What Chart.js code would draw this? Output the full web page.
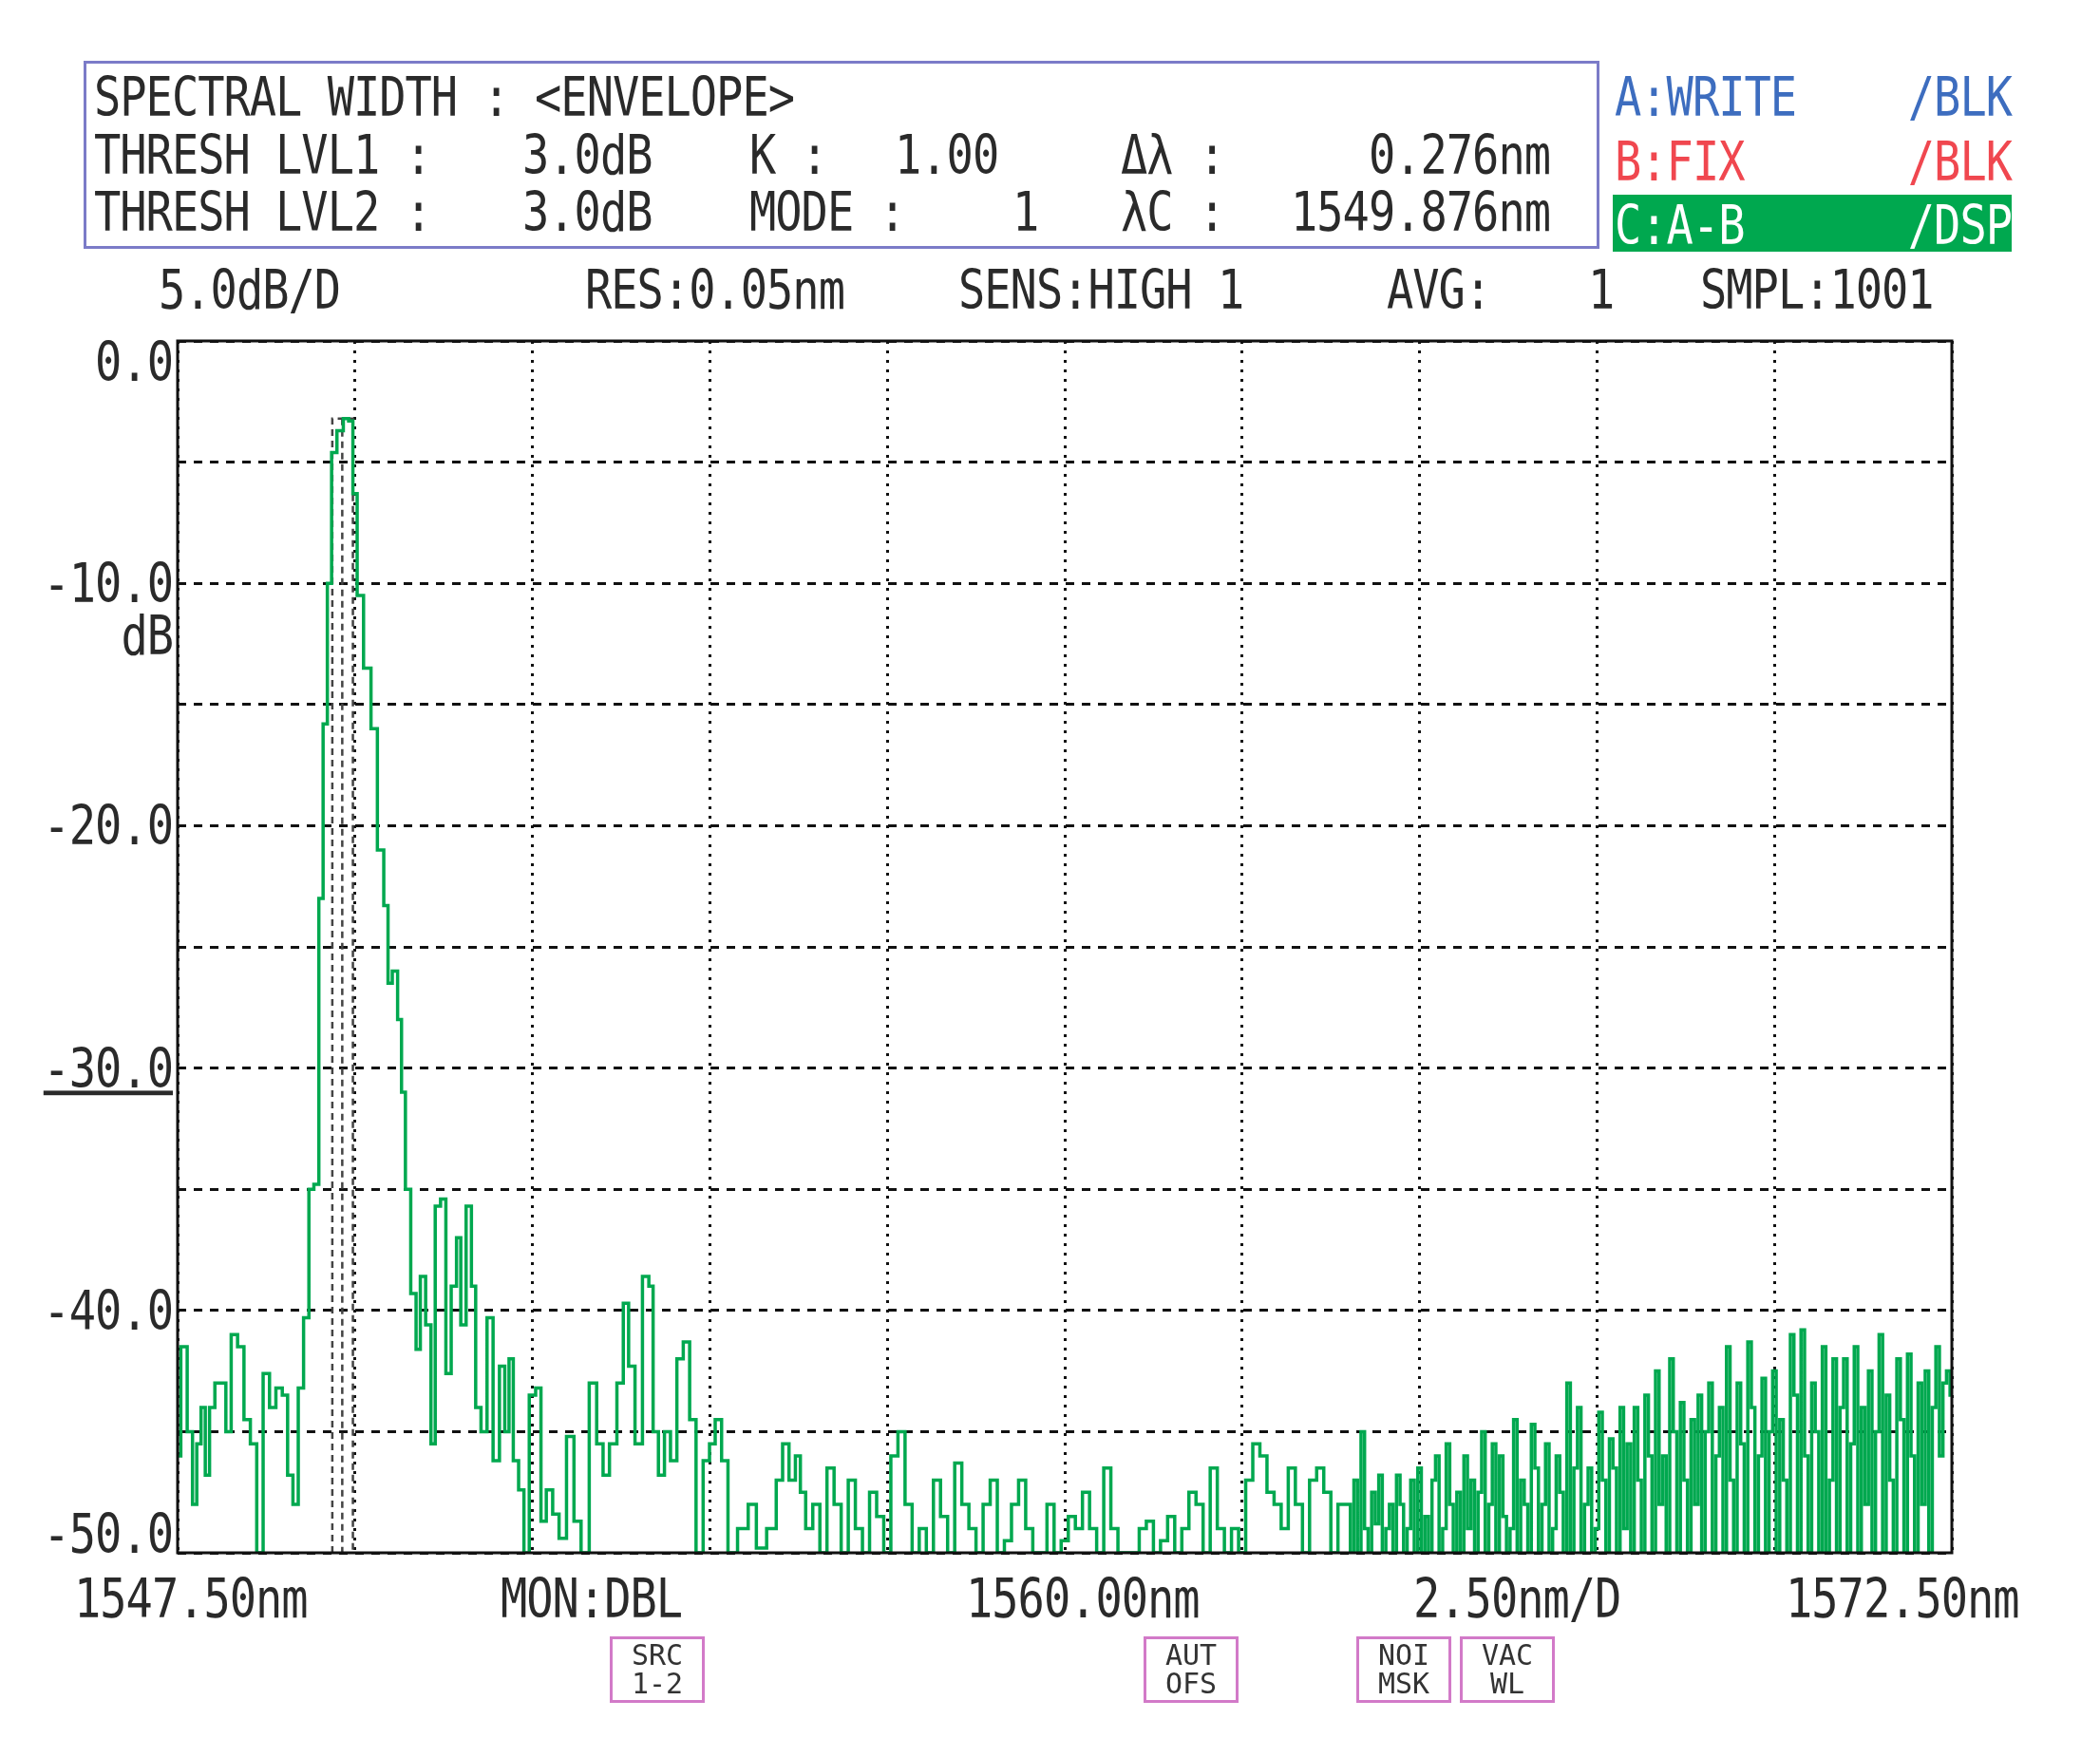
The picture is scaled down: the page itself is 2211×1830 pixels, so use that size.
<!DOCTYPE html>
<html>
<head>
<meta charset="utf-8">
<script src="https://cdn.jsdelivr.net/npm/chart.js@4/dist/chart.umd.min.js"></script>
<style>
  body { margin: 0; background: #fff; }
  #wrap { position: relative; width: 2211px; height: 1830px; overflow: hidden; }
  canvas { position: absolute; left: 0; top: 0; }
  .t { position: absolute; font-family: "DejaVu Sans Mono", monospace; font-size: 47px; color: #2a2a2a;
       line-height: 1; white-space: pre; transform: translateY(-50%) scaleY(1.2); letter-spacing: -1px; }
  .r { transform: translate(-100%, -50%) scaleY(1.2); }
  .box { position: absolute; border: 3px solid #7b7bc8; }
  .tag { position: absolute; border: 3px solid #d27ac8; font-family: "DejaVu Sans Mono", monospace;
         font-size: 30px; line-height: 30px; color: #333; text-align: center; box-sizing: border-box; padding-top: 2px; }
</style>
</head>
<body>
<div id="wrap">
  <canvas id="chart" width="2211" height="1830"></canvas>
</div>
<script>
// measured trace, main peak region (wavelength nm, level dB)
const peakNm = [1547.50,1547.59,1547.68,1547.74,1547.80,1547.86,1547.92,1547.98,1548.07,1548.15,1548.21,1548.30,1548.39,1548.48,1548.57,1548.66,1548.75,1548.84,1548.93,1549.02,1549.08,1549.17,1549.23,1549.32,1549.38,1549.46,1549.52,1549.58,1549.64,1549.70,1549.79,1549.88,1549.94,1550.00,1550.06,1550.18,1550.27,1550.36,1550.45,1550.48,1550.57,1550.63,1550.68,1550.74,1550.83,1550.89,1550.95,1551.04,1551.10,1551.16,1551.25,1551.31,1551.40,1551.46,1551.52,1551.61,1551.67,1551.73,1551.82,1551.90,1551.99,1552.08,1552.14,1552.20,1552.26,1552.35,1552.41,1552.50,1552.59,1552.65,1552.74,1552.83,1552.92,1553.04,1553.13,1553.24,1553.36,1553.45,1553.54,1553.63,1553.75,1553.81,1553.90,1553.99,1554.11,1554.17,1554.23,1554.32,1554.40,1554.49,1554.58,1554.67,1554.76,1554.85,1554.96,1555.03,1555.12,1555.21,1555.30,1555.48,1555.60,1555.71,1555.89,1555.98,1556.07,1556.16,1556.25];
const peakDb = [-46,-41.5,-45,-48,-45.5,-44,-46.8,-44,-43,-43,-45,-41,-41.5,-44.5,-45.5,-50,-42.6,-44,-43.2,-43.5,-46.8,-48,-43.2,-40.3,-35,-34.8,-23,-15.8,-10,-4.6,-3.7,-3.2,-3.3,-6.3,-10.5,-13.5,-16,-21,-23.3,-26.5,-26,-28,-31,-35,-39.3,-41.6,-38.6,-40.6,-45.5,-35.7,-35.4,-42.6,-39,-37,-40.6,-35.7,-39,-44,-45,-40.3,-46.2,-42.3,-45,-42,-46.2,-47.4,-50,-43.5,-43.2,-48.7,-47.4,-48.4,-49.4,-45.2,-48.7,-50,-43,-45.5,-46.8,-45.5,-43,-39.7,-42.3,-45.5,-38.6,-39,-45,-46.8,-45,-46.2,-42,-41.3,-44.5,-50,-46.2,-45.5,-44.5,-46.2,-50,-49,-48,-49.8,-49,-47,-45.5,-47,-46];
// noise floor A: every 0.1 nm from 1556.3 to 1563.9
const noiseAStart = 1556.3;
const noiseAStep = 0.1;
const noiseADb = [-47.5,-49,-48,-50,-46.5,-48,-50,-47,-49,-50,-47.5,-48.5,-50,-46,-45,-48,-50,-49,-50,-47,-48.5,-50,-46.3,-48,-49,-50,-48,-47,-50,-49.5,-48,-47,-49,-50,-50,-48,-50,-49.5,
  -48.5,-49,-47.5,-49,-50,-46.5,-49,-50,-50,-50,-49,-48.7,-50,-49.5,-48.5,-50,-49,-47.5,-48,-50,-46.5,-49,-50,-49,-50,-47,-45.5,-46,-47.5,-48,-49,-46.5,-48,-50,-47,-46.5,-47.5,-50,-48];
// noise floor B: every 0.05 nm from 1564.0 to 1572.5
const noiseBStart = 1564.0;
const noiseBStep = 0.05;
const noiseBDb = [-48,-50,-47,-50,-45,-49,-50,-47.5,-48.8,-46.8,-50,-49,-48,-50,-46.8,-48,-50,-49,-47,-50,
  -46.5,-50,-48.5,-50,-47,-46,-50,-49,-45.5,-48,-50,-47.5,-50,-46,-49,-47,-50,-47.5,-45,-50,
  -48,-45.5,-50,-46,-48.5,-50,-49,-44.5,-50,-47,-48,-50,-44.7,-46.5,-50,-48,-45.5,-50,-49,-46,
  -47.5,-50,-43,-50,-46.5,-44,-50,-48,-46.5,-50,-49,-44.2,-47,-50,-45.3,-46.5,-50,-44,-49,-45.5,
  -50,-44,-47,-50,-43.5,-46,-50,-42.5,-48,-46,-50,-42,-45,-50,-43.8,-47,-50,-44.5,-48,-43.5,
  -50,-45,-43,-50,-46,-44,-50,-41.5,-47,-50,-43,-45.5,-50,-41.3,-44,-50,-46,-42.8,-50,-45,
  -42.5,-50,-44.5,-47,-50,-41,-43.5,-50,-40.8,-46,-50,-43,-45,-50,-41.5,-50,-47,-42,-50,-44,
  -42,-50,-45.5,-41.5,-50,-44,-48,-42.5,-50,-45,-41,-50,-43.5,-47,-50,-42,-44.5,-50,-41.8,-46,
  -50,-43,-48,-42.5,-50,-44,-41.5,-46,-43,-42.5,-43.5];
// envelope markers
const envNm = [1549.68, 1549.82, 1549.97];
const envTop = -3.2;
const yLabels = ['0.0','-10.0','-20.0','-30.0','-40.0','-50.0'];

const trace = peakNm.map((x, i) => ({ x, y: peakDb[i] }));
noiseADb.forEach((y, i) => trace.push({ x: +(noiseAStart + i * noiseAStep).toFixed(2), y }));
noiseBDb.forEach((y, i) => trace.push({ x: +(noiseBStart + i * noiseBStep).toFixed(2), y }));

const envOuter = [{x: envNm[0], y: -50}, {x: envNm[0], y: envTop}, {x: envNm[2], y: envTop}, {x: envNm[2], y: -50}];
const envMid = [{x: envNm[1], y: envTop}, {x: envNm[1], y: -50}];

const chart = new Chart(document.getElementById('chart').getContext('2d'), {
  type: 'line',
  data: {
    datasets: [
      { data: trace, borderColor: '#00a84f', borderWidth: 3.5, pointRadius: 0, stepped: 'middle' },
      { data: envOuter, borderColor: '#444', borderWidth: 2.5, borderDash: [7, 5], pointRadius: 0 },
      { data: envMid, borderColor: '#444', borderWidth: 2.5, borderDash: [7, 5], pointRadius: 0 }
    ]
  },
  options: {
    responsive: false, animation: false, events: [],
    layout: { padding: { left: 187, top: 359, right: 156, bottom: 195 } },
    plugins: { legend: { display: false }, tooltip: { enabled: false } },
    scales: {
      x: {
        type: 'linear', min: 1547.5, max: 1572.5,
        ticks: { display: false, stepSize: 2.5 },
        grid: { color: '#111', lineWidth: 3, drawTicks: false, tickLength: 0 },
        border: { display: false, dash: [3, 7] },
        afterBuildTicks: a => { a.ticks = []; for (let v = 0; v <= 10; v++) a.ticks.push({ value: 1547.5 + v * 2.5 }); }
      },
      y: {
        min: -50, max: 0,
        ticks: { display: false, stepSize: 5 },
        grid: { color: '#111', lineWidth: 3, drawTicks: false, tickLength: 0 },
        border: { display: false, dash: [9, 8] }
      }
    }
  },
  plugins: [{
    id: 'frame',
    afterDraw(c) {
      const { left, right, top, bottom } = c.chartArea;
      const ctx = c.ctx;
      ctx.save();
      ctx.strokeStyle = '#111';
      ctx.lineWidth = 3;
      ctx.setLineDash([]);
      ctx.strokeRect(left, top, right - left, bottom - top);
      ctx.restore();
    }
  }]
});

const wrap = document.getElementById('wrap');
function text(s, x, y, opts = {}) {
  const d = document.createElement('div');
  d.className = 't' + (opts.right ? ' r' : '');
  d.textContent = s;
  d.style.left = x + 'px';
  d.style.top = y + 'px';
  if (opts.color) d.style.color = opts.color;
  if (opts.underline) d.style.textDecoration = 'underline';
  wrap.appendChild(d);
  return d;
}

// header box
const box = document.createElement('div');
box.className = 'box';
Object.assign(box.style, { left: '88px', top: '64px', width: '1590px', height: '192px' });
wrap.appendChild(box);
text('SPECTRAL WIDTH : <ENVELOPE>', 99, 102);
text('THRESH LVL1 :', 99, 163); text('3.0dB', 550, 163); text('K :', 789, 163); text('1.00', 942, 163);
text('Δλ :', 1180, 163); text('0.276nm', 1632, 163, { right: true });
text('THRESH LVL2 :', 99, 223); text('3.0dB', 550, 223); text('MODE :', 789, 223); text('1', 1066, 223);
text('λC :', 1180, 223); text('1549.876nm', 1632, 223, { right: true });

// trace legend
text('A:WRITE', 1700, 102, { color: '#3d6dbf' }); text('/BLK', 2118, 102, { color: '#3d6dbf', right: true });
text('B:FIX', 1700, 170, { color: '#f0474f' }); text('/BLK', 2118, 170, { color: '#f0474f', right: true });
const cbar = document.createElement('div');
Object.assign(cbar.style, { position: 'absolute', left: '1698px', top: '205px', width: '420px', height: '60px', background: '#00a84f' });
wrap.appendChild(cbar);
text('C:A-B', 1700, 237, { color: '#fff' }); text('/DSP', 2118, 237, { color: '#fff', right: true });

// status line
text('5.0dB/D', 167, 305); text('RES:0.05nm', 616, 305); text('SENS:HIGH 1', 1009, 305);
text('AVG:', 1460, 305); text('1', 1672, 305); text('SMPL:1001', 1790, 305);

// y labels
const yPos = yLabels.map(l => chart.scales.y.getPixelForValue(parseFloat(l)));
yLabels.forEach((l, i) => {
  let y = yPos[i];
  if (i === 0) y += 22;
  if (i === yLabels.length - 1) y -= 20;
  text(l, 182, y, { right: true, underline: l === '-30.0' });
});
text('dB', 182, yPos[1] + 55, { right: true });

// x labels
text('1547.50nm', 78, 1683); text('MON:DBL', 527, 1683); text('1560.00nm', 1017, 1683);
text('2.50nm/D', 1488, 1683); text('1572.50nm', 1880, 1683);

// function tags
[['SRC', '1-2', 642], ['AUT', 'OFS', 1204], ['NOI', 'MSK', 1428], ['VAC', 'WL', 1537]].forEach(([a, b, x]) => {
  const d = document.createElement('div');
  d.className = 'tag';
  d.innerHTML = a + '<br>' + b;
  Object.assign(d.style, { left: x + 'px', top: '1723px', width: '100px', height: '70px' });
  wrap.appendChild(d);
});
</script>
</body>
</html>
